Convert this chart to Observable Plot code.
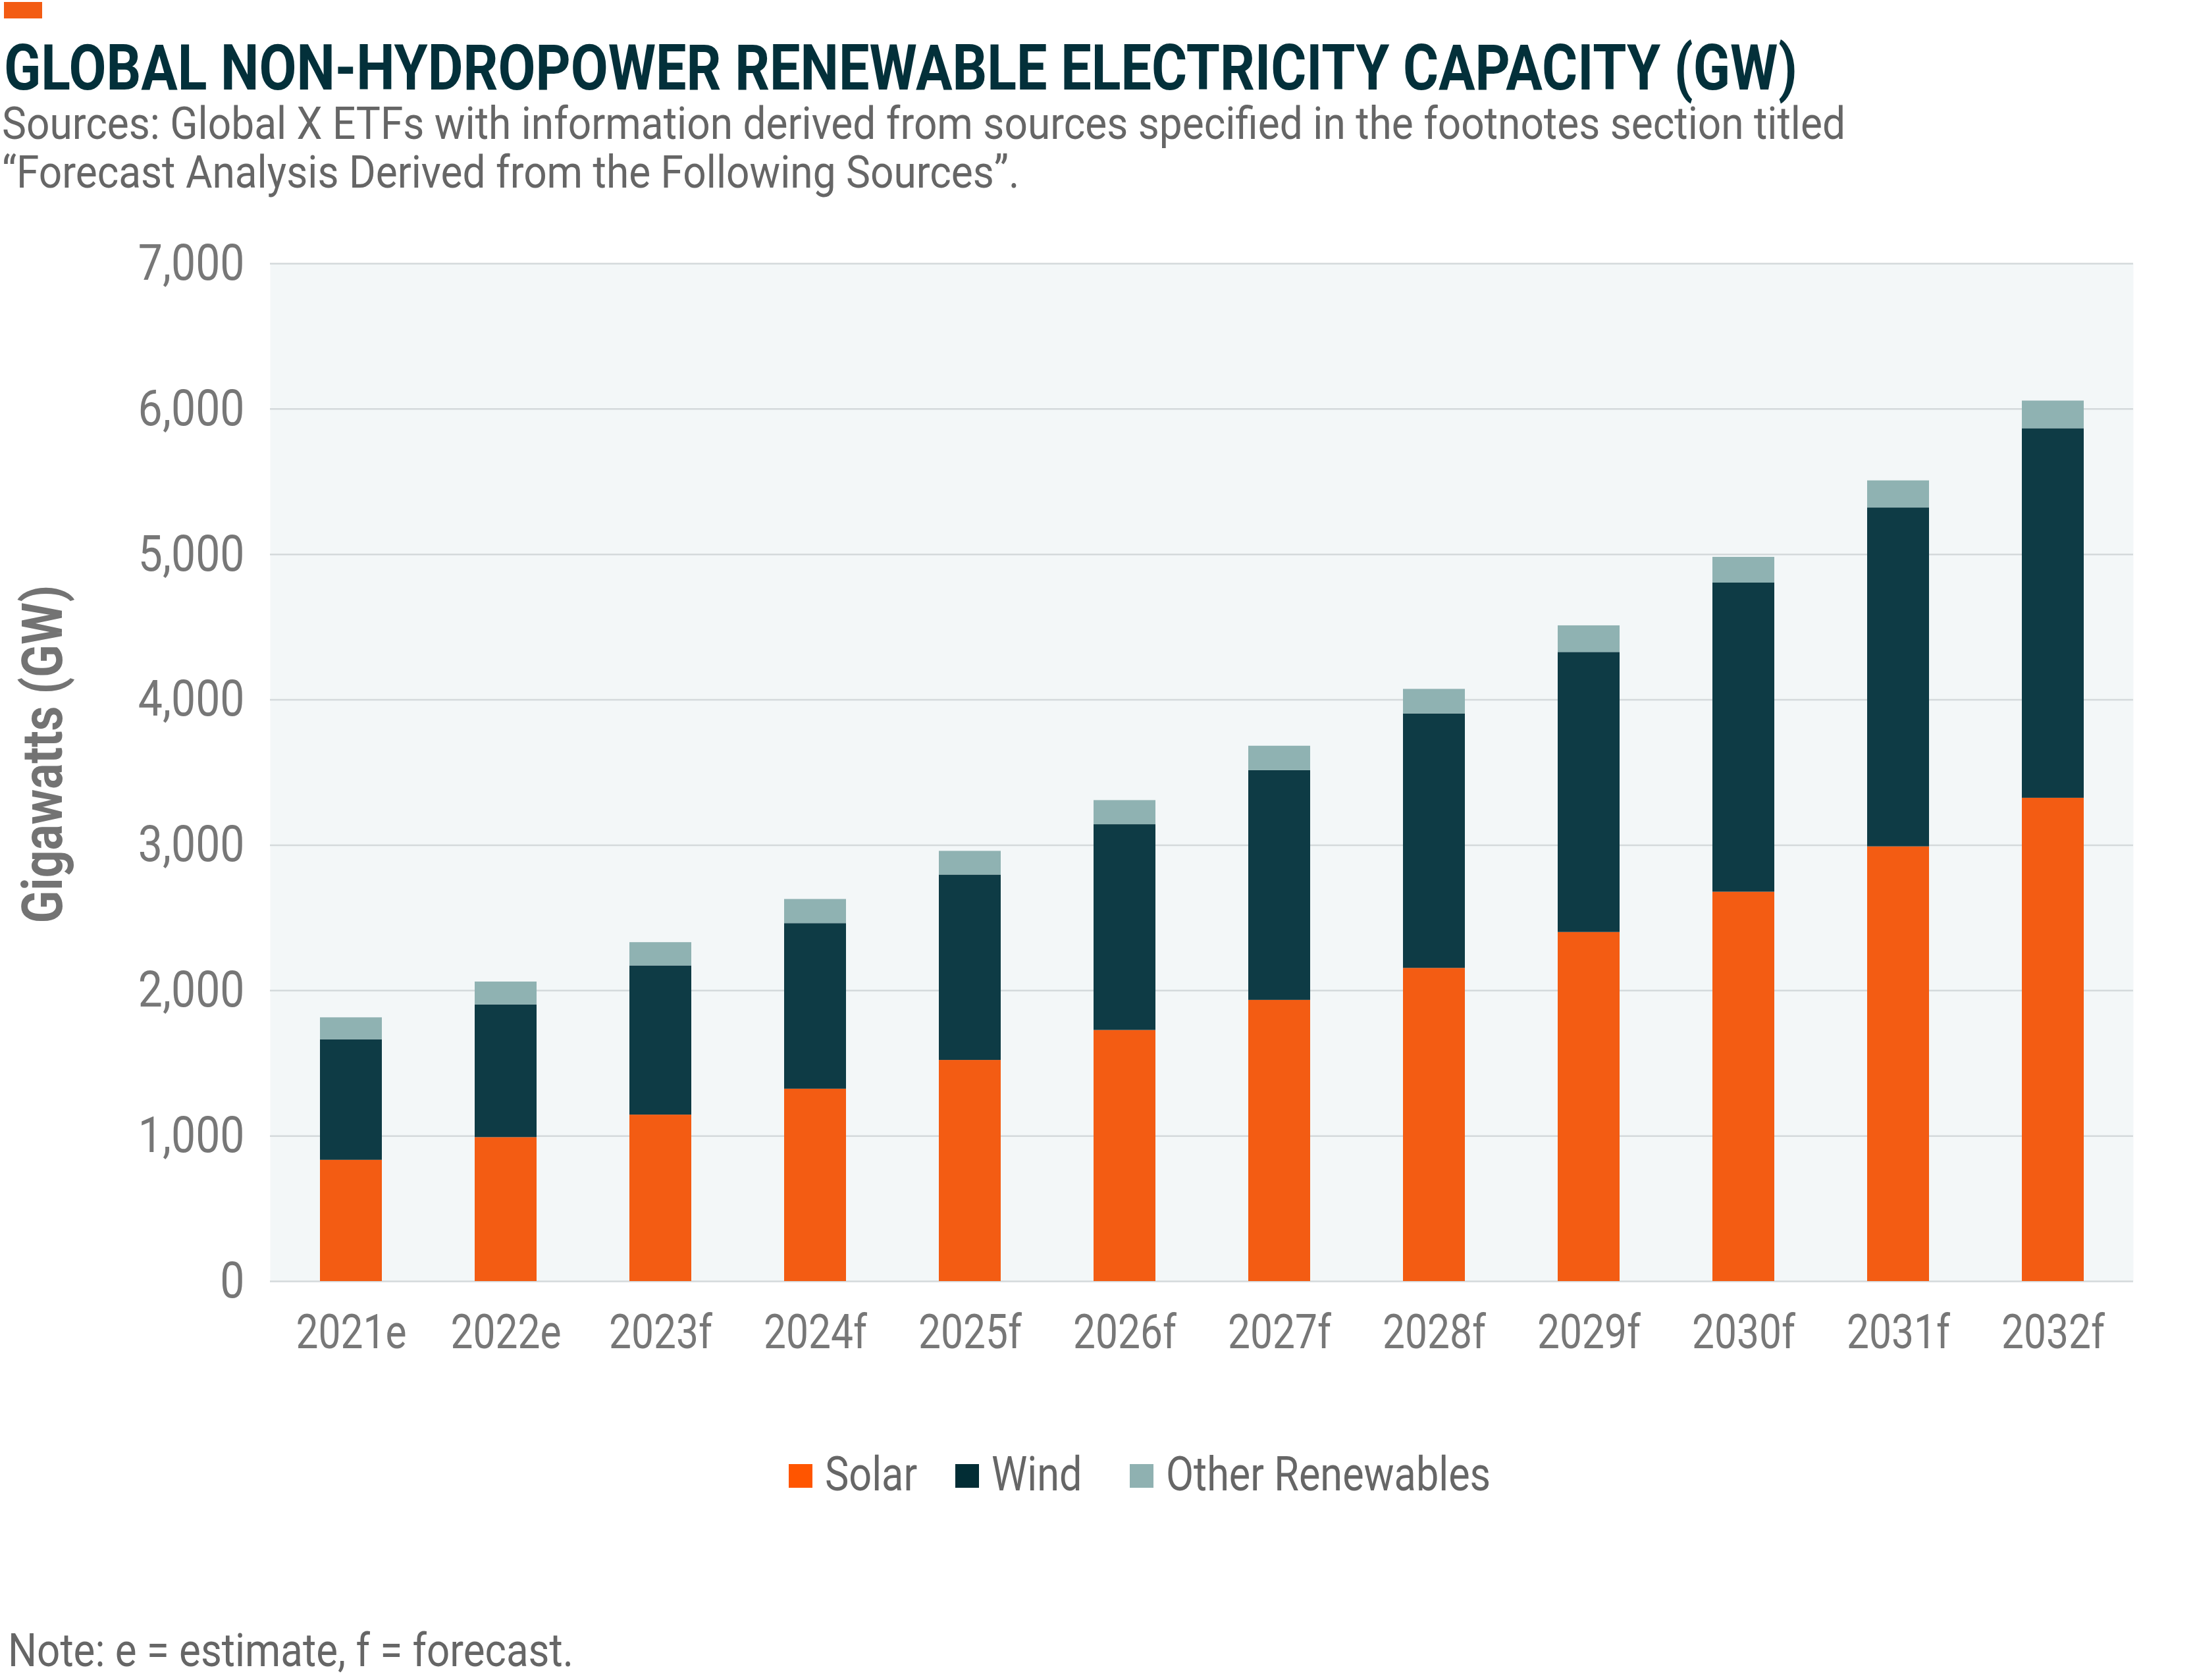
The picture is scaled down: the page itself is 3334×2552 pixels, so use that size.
<!DOCTYPE html>
<html>
<head>
<meta charset="utf-8">
<script src="https://cdn.jsdelivr.net/npm/d3@7"></script>
<script src="https://cdn.jsdelivr.net/npm/@observablehq/plot@0.6"></script>
<style>
  html, body { margin: 0; padding: 0; background: #ffffff; }
  #root { position: relative; width: 3334px; height: 2552px; overflow: hidden; font-family: Roboto, "Noto Sans", sans-serif; }
  .t { position: absolute; white-space: nowrap; line-height: 1; display: inline-block; transform-origin: 0 0; }
  #chart { position: absolute; left: 0; top: 300px; }
  .sw { position: absolute; }
</style>
</head>
<body>
<div id="root"></div>
<script>
// ---------- data ----------
const years = ["2021e","2022e","2023f","2024f","2025f","2026f","2027f","2028f","2029f","2030f","2031f","2032f"];
const sources = ["Solar", "Wind", "Other Renewables"];
const solar = [834, 990, 1145, 1323, 1521, 1727, 1934, 2154, 2401, 2678, 2990, 3324];
const wind  = [828, 913, 1026, 1139, 1275, 1415, 1580, 1750, 1926, 2126, 2330, 2542];
const other = [152, 157, 160, 166, 163, 166, 168, 169, 183, 177, 187, 190];
const yTicks = [0, 1000, 2000, 3000, 4000, 5000, 6000, 7000];

const titleText = "GLOBAL NON-HYDROPOWER RENEWABLE ELECTRICITY CAPACITY (GW)";
const subtitleLines = [
  "Sources: Global X ETFs with information derived from sources specified in the footnotes section titled",
  "\u201CForecast Analysis Derived from the Following Sources\u201D."
];
const yLabel = "Gigawatts (GW)";
const noteText = "Note: e = estimate, f = forecast.";

const barColors = ["#f35c13", "#0e3b45", "#8fb2b2"];
const legendColors = ["#ff5500", "#022d35", "#8fb1b1"];

const seriesValues = [solar, wind, other];
const table = years.flatMap((yr, i) => sources.map((s, j) => ({year: yr, source: s, value: seriesValues[j][i]})));

// ---------- helpers ----------
const root = document.getElementById("root");
const SX = 0.85;
function addText(txt, {left, baseline, size, weight = 400, color = "#666", fit = null, scale = SX}) {
  const el = document.createElement("div");
  el.className = "t";
  el.textContent = txt;
  el.style.left = left + "px";
  el.style.fontSize = size + "px";
  el.style.fontWeight = weight;
  el.style.color = color;
  el.style.top = (baseline - 0.8418 * size) + "px";
  root.appendChild(el);
  const w = el.getBoundingClientRect().width;
  const k = fit ? fit / w : scale;
  el.style.transform = `scaleX(${k})`;
  return {el, width: w * k, k};
}
function condense(textEl, k) {
  const len = textEl.getComputedTextLength();
  if (len > 0) {
    textEl.setAttribute("textLength", (len * k).toFixed(1));
    textEl.setAttribute("lengthAdjust", "spacingAndGlyphs");
  }
}

// ---------- header ----------
const bar = document.createElement("div");
Object.assign(bar.style, {position: "absolute", left: "6px", top: "3px", width: "58px", height: "25px", background: "#f35c13"});
root.appendChild(bar);

addText(titleText, {left: 6, baseline: 136, size: 96, weight: 700, color: "#03303a", fit: 2724});
const s1 = addText(subtitleLines[0], {left: 3, baseline: 211, size: 69, color: "#666666", fit: 2800});
addText(subtitleLines[1], {left: 3, baseline: 285, size: 69, color: "#666666", scale: s1.k});

// ---------- chart ----------
const chart = Plot.plot({
  width: 3334,
  height: 1800,
  marginTop: 100,
  marginBottom: 154,
  marginLeft: 410,
  marginRight: 94,
  style: {fontFamily: "Roboto, 'Noto Sans', sans-serif", fontSize: "72px", color: "#777777", background: "transparent", overflow: "visible"},
  x: {domain: years, paddingInner: 0.6, paddingOuter: 0.3, label: null, tickSize: 0, tickPadding: 50},
  y: {domain: [0, 7000], ticks: yTicks, tickFormat: d3.format(","), label: null, tickSize: 0, tickPadding: 39},
  color: {domain: sources, range: barColors},
  marks: [
    Plot.frame({fill: "#f3f7f8", stroke: "none"}),
    Plot.ruleY(yTicks, {stroke: "#d4d9db", strokeWidth: 2.5}),
    Plot.barY(table, Plot.stackY({x: "year", y: "value", fill: "source"})),
    Plot.text([yLabel], {text: d => d, frameAnchor: "left", textAnchor: "start", dx: -344, dy: 229, rotate: -90, fontSize: 85, fontWeight: "bold", fill: "#737373"})
  ]
});
chart.id = "chart";
root.appendChild(chart);

// font size for y ticks, and condensed text in svg (via textLength)
chart.querySelectorAll('g[aria-label^="y-axis"]').forEach(g => g.setAttribute("font-size", 76));
chart.querySelectorAll('g[aria-label^="y-axis"] text').forEach(t => condense(t, 0.87));
chart.querySelectorAll('g[aria-label^="x-axis"] text').forEach(t => condense(t, 0.84));
chart.querySelectorAll('g[aria-label="text"] text').forEach(t => condense(t, 0.86));

// ---------- legend ----------
const legendGaps = [58, 72, 0];
let lx = 1198;
sources.forEach((s, i) => {
  const sw = document.createElement("div");
  sw.className = "sw";
  Object.assign(sw.style, {left: lx + "px", top: "2224px", width: "36px", height: "36px", background: legendColors[i]});
  root.appendChild(sw);
  const r = addText(s, {left: lx + 55, baseline: 2265, size: 72, color: "#666666"});
  lx = lx + 55 + r.width + legendGaps[i];
});

// ---------- note ----------
addText(noteText, {left: 12, baseline: 2531, size: 70, color: "#666666", fit: 859});
</script>
</body>
</html>
